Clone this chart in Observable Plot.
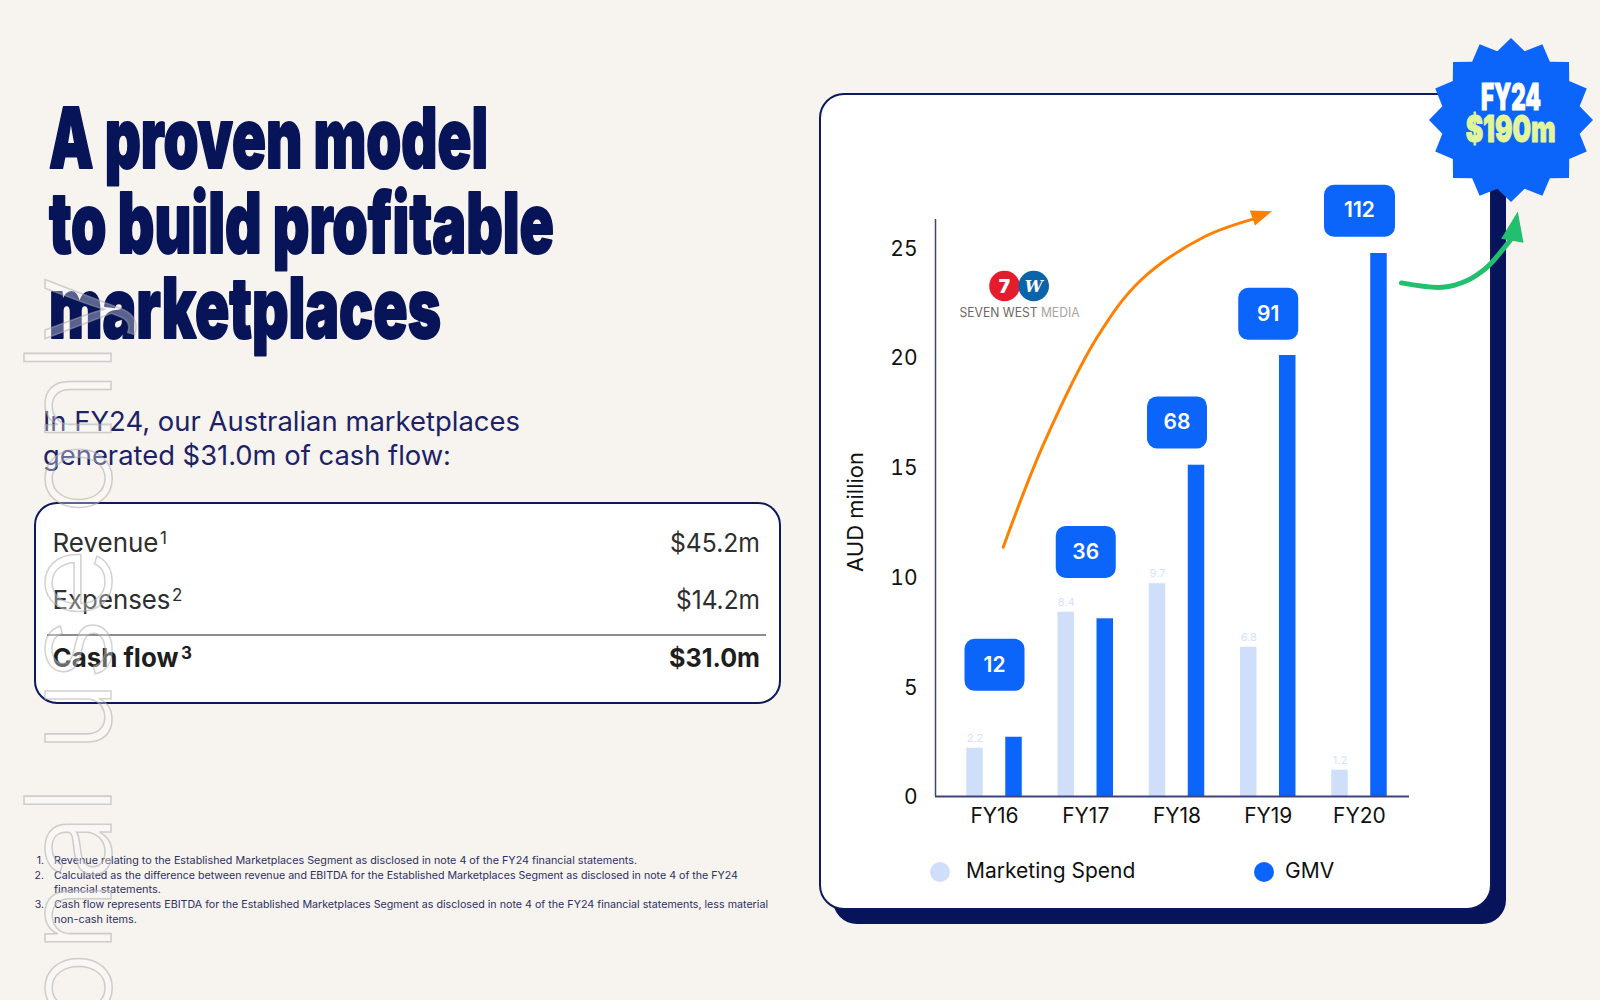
<!DOCTYPE html>
<html>
<head>
<meta charset="utf-8">
<script src="https://cdn.jsdelivr.net/npm/d3@7"></script>
<script src="https://cdn.jsdelivr.net/npm/@observablehq/plot@0.6"></script>
<style>
  html, body { margin: 0; padding: 0; background: #f7f3ef; }
  #page { position: relative; width: 1600px; height: 1000px; overflow: hidden; background: #f7f3ef; font-family: Inter, "Noto Sans", sans-serif; }
  .layer { position: absolute; left: 0; top: 0; }
  #chartWrap { position: absolute; left: 819px; top: 93px; width: 673px; }
  #legend { position: relative; height: 62px; font-family: Inter, sans-serif; font-size: 21px; color: #111; }
  #legend .sw { position: absolute; width: 20px; height: 20px; border-radius: 50%; top: 22px; }
  #legend .lb { position: absolute; top: 18px; line-height: 26px; }
</style>
</head>
<body>
<div id="page">
  <svg id="bg" class="layer" width="1600" height="1000"></svg>
  <div id="chartWrap"></div>
  <svg id="fg" class="layer" width="1600" height="1000" style="pointer-events:none"></svg>
</div>
<script>
// ---------------- data ----------------
const years = ["FY16", "FY17", "FY18", "FY19", "FY20"];
const seriesNames = ["Marketing Spend", "GMV"];
const seriesColors = ["#cfdffa", "#0c65fb"];
const marketingSpend = [2.2, 8.4, 9.7, 6.8, 1.2];
const gmvBarHeight = [2.7, 8.1, 15.1, 20.1, 24.75];   // drawn bar height on the AUD million axis
const gmvValue = [12, 36, 68, 91, 112];                // GMV shown in the callout boxes
const gmvLabelLevel = [6.0, 11.15, 17.05, 22.0, 26.7]; // where each callout box sits on the axis
const yTicks = [0, 5, 10, 15, 20, 25];
const yMax = 26.3;

// annotation arrows (x in year-index units, y in AUD million units)
const orangeArrowX = [0.095, 0.54, 1.125, 1.6, 2.29, 2.86];
const orangeArrowY = [11.36, 16.08, 20.93, 23.52, 25.49, 26.35];
const orangeTip = {x: 3.043, y: 26.68};
const greenArrowX = [4.46, 4.91, 5.181, 5.399, 5.563, 5.666];
const greenArrowY = [23.41, 23.21, 23.52, 24.13, 24.89, 25.43];
const greenTip = {x: 5.735, y: 26.67};

const titleLines = ["A proven model", "to build profitable", "marketplaces"];
const subtitleLines = ["In FY24, our Australian marketplaces", "generated $31.0m of cash flow:"];
const cashLabels = ["Revenue", "Expenses", "Cash flow"];
const cashNotes = ["1", "2", "3"];
const cashValues = ["$45.2m", "$14.2m", "$31.0m"];
const footnoteNums = ["1.", "2.", "", "3.", ""];
const footnoteLines = [
  "Revenue relating to the Established Marketplaces Segment as disclosed in note 4 of the FY24 financial statements.",
  "Calculated as the difference between revenue and EBITDA for the Established Marketplaces Segment as disclosed in note 4 of the FY24",
  "financial statements.",
  "Cash flow represents EBITDA for the Established Marketplaces Segment as disclosed in note 4 of the FY24 financial statements, less material",
  "non-cash items."
];
const badgeLines = ["FY24", "$190m"];
const watermark = "For personal use only";

// ---------------- helpers ----------------
const NAVY = "#081458";
function txt(svg, s, o) {
  const t = svg.append("text").attr("x", o.x).attr("y", o.y).text(s)
    .attr("font-family", o.font || "Inter, sans-serif")
    .attr("font-size", o.size).attr("font-weight", o.weight || 400)
    .attr("fill", o.fill || "#000");
  if (o.anchor) t.attr("text-anchor", o.anchor);
  if (o.len) t.attr("textLength", o.len).attr("lengthAdjust", "spacingAndGlyphs");
  if (o.stroke) t.attr("stroke", o.stroke).attr("stroke-width", o.sw || 1).attr("stroke-linejoin", "round");
  return t;
}

// ---------------- background layer ----------------
const bg = d3.select("#bg");
// chart card with offset shadow
bg.append("rect").attr("x", 833).attr("y", 107).attr("width", 673).attr("height", 817).attr("rx", 24).attr("fill", "#07135a");
bg.append("rect").attr("x", 820).attr("y", 94).attr("width", 671).attr("height", 815).attr("rx", 24)
  .attr("fill", "#fff").attr("stroke", "#0a1a5c").attr("stroke-width", 2);

// title
const titleBase = [168, 253, 338], titleLen = [439, 505, 392];
titleLines.forEach((s, i) => txt(bg, s, {x: 49, y: titleBase[i], size: 84, weight: 900, fill: NAVY, len: titleLen[i], stroke: NAVY, sw: 2}));

// subtitle
const subBase = [431, 465], subLen = [477, 408];
subtitleLines.forEach((s, i) => txt(bg, s, {x: 43, y: subBase[i], size: 27, weight: 400, fill: "#1b2266", len: subLen[i]}));

// cash-flow table
bg.append("rect").attr("x", 35).attr("y", 503).attr("width", 745).attr("height", 200).attr("rx", 22)
  .attr("fill", "#fff").attr("stroke", "#0a1a5c").attr("stroke-width", 2);
bg.append("line").attr("x1", 47).attr("x2", 766).attr("y1", 635).attr("y2", 635).attr("stroke", "#8d8d8d").attr("stroke-width", 2);
const rowBase = [552, 609, 667], labLen = [106, 118, 126], noteX = [160, 172, 181], valLen = [90, 84, 91];
cashLabels.forEach((s, i) => {
  const bold = i === 2;
  txt(bg, s, {x: 52.5, y: rowBase[i], size: 26, weight: bold ? 700 : 400, fill: bold ? "#1e1e1e" : "#2e2e2e", len: labLen[i]});
  txt(bg, cashNotes[i], {x: noteX[i], y: rowBase[i] - 8, size: 17, weight: bold ? 700 : 400, fill: bold ? "#1e1e1e" : "#2e2e2e"});
  txt(bg, cashValues[i], {x: 760, y: rowBase[i], size: 26, weight: bold ? 700 : 400, fill: bold ? "#1e1e1e" : "#2e2e2e", anchor: "end", len: valLen[i]});
});

// footnotes
const fnBase = [864, 878.7, 893.3, 908.3, 923.3], fnLen = [583, 684, 107, 714, 83];
footnoteLines.forEach((s, i) => {
  if (footnoteNums[i]) txt(bg, footnoteNums[i], {x: 44, y: fnBase[i], size: 10.5, fill: "#2c3062", anchor: "end"});
  txt(bg, s, {x: 54, y: fnBase[i], size: 10.5, fill: "#2c3062", len: fnLen[i]});
});

// Seven West Media logo
bg.append("circle").attr("cx", 1004.5).attr("cy", 286).attr("r", 15.3).attr("fill", "#e31d2b");
bg.append("circle").attr("cx", 1033.7).attr("cy", 286).attr("r", 15.3).attr("fill", "#0c64a8");
txt(bg, "7", {x: 1004.5, y: 292.5, size: 19, weight: 900, fill: "#fff", anchor: "middle"});
txt(bg, "W", {x: 1033.7, y: 292, size: 16, weight: 700, fill: "#fff", anchor: "middle", font: "DejaVu Serif, serif"}).attr("font-style", "italic");
const logoT = bg.append("text").attr("x", 959.5).attr("y", 316.5).attr("font-family", "Inter, sans-serif").attr("font-size", 13.5)
  .attr("textLength", 120).attr("lengthAdjust", "spacingAndGlyphs");
logoT.append("tspan").attr("fill", "#6f6762").text("SEVEN WEST ");
logoT.append("tspan").attr("fill", "#aaa39e").text("MEDIA");

// ---------------- chart ----------------
const W = 673, H = 747, mL = 116, mR = 83, mT = 126, mB = 44;
const fxPad = {paddingInner: 0.1, paddingOuter: 0.1475, align: 0.667};

const bars = years.flatMap((year, i) => [
  {year, series: seriesNames[0], value: marketingSpend[i]},
  {year, series: seriesNames[1], value: gmvBarHeight[i]}
]);
const spendRows = bars.filter(d => d.series === seriesNames[0]);
const gmvRows = years.map((year, i) => ({year, value: gmvValue[i], level: gmvLabelLevel[i]}));

// rounded callout box symbol (half-width from r, fixed height)
const roundedBox = {
  draw(ctx, size) {
    const w = Math.sqrt(size / Math.PI), h = 26, c = 10;
    ctx.moveTo(-w + c, -h);
    ctx.lineTo(w - c, -h); ctx.arcTo(w, -h, w, -h + c, c);
    ctx.lineTo(w, h - c); ctx.arcTo(w, h, w - c, h, c);
    ctx.lineTo(-w + c, h); ctx.arcTo(-w, h, -w, h - c, c);
    ctx.lineTo(-w, -h + c); ctx.arcTo(-w, -h, -w + c, -h, c);
    ctx.closePath();
  }
};
// filled arrow head, tip at the origin pointing up
const arrowHead = {
  draw(ctx, size) {
    const r = Math.sqrt(size / Math.PI), L = 2.3 * r, B = 1.75 * r;
    ctx.moveTo(0, 0); ctx.lineTo(B / 2, L); ctx.lineTo(-B / 2, L); ctx.closePath();
  }
};

const chart = Plot.plot({
  width: W, height: H, marginLeft: mL, marginRight: mR, marginTop: mT, marginBottom: mB,
  style: {background: "transparent", overflow: "visible", fontFamily: "Inter, sans-serif", color: "#111"},
  fx: {domain: years, ...fxPad, round: false, label: null},
  x: {domain: seriesNames, paddingInner: 0.577, paddingOuter: 0.341, round: false, axis: null},
  y: {domain: [0, yMax], axis: null},
  r: {type: "identity"},
  color: {domain: seriesNames, range: seriesColors},
  marks: [
    Plot.axisFx({anchor: "bottom", tickSize: 0, tickPadding: 12, fontSize: 21, label: null}),
    Plot.barY(bars, {fx: "year", x: "series", y: "value", fill: "series"}),
    Plot.text(spendRows, {fx: "year", x: "series", y: "value", text: d => d.value.toFixed(1), dy: -10, fill: "#d3e2fb", fontSize: 11}),
    Plot.dot(gmvRows, {fx: "year", y: "level", r: d => 19 + 5.5 * String(d.value).length, symbol: roundedBox, fill: seriesColors[1]}),
    Plot.text(gmvRows, {fx: "year", y: "level", text: d => String(d.value), fill: "#fff", fontSize: 21, fontWeight: 600})
  ]
});

// overlay with a continuous x (year index) for axes lines and annotation arrows
const nY = years.length, frameW = W - mL - mR;
const step = frameW / (nY - fxPad.paddingInner + 2 * fxPad.paddingOuter);
const firstCenter = (frameW - step * (nY - fxPad.paddingInner)) * fxPad.align + step * (1 - fxPad.paddingInner) / 2;
const xDom = [-firstCenter / step, (frameW - firstCenter) / step];
const orangePts = orangeArrowX.map((x, i) => ({x, y: orangeArrowY[i]}));
const greenPts = greenArrowX.map((x, i) => ({x, y: greenArrowY[i]}));
const AXIS = "#3f4579";

const overlay = Plot.plot({
  width: W, height: H, marginLeft: mL, marginRight: mR, marginTop: mT, marginBottom: mB,
  style: {background: "transparent", overflow: "visible", fontFamily: "Inter, sans-serif", color: "#111", position: "absolute", left: "0px", top: "0px"},
  x: {domain: xDom, axis: null},
  y: {domain: [0, yMax]},
  marks: [
    Plot.axisY({ticks: yTicks, tickSize: 0, tickPadding: 18, fontSize: 21, label: null, dy: 1}),
    Plot.ruleX([xDom[0]], {stroke: AXIS, strokeWidth: 1.5}),
    Plot.ruleY([0], {stroke: AXIS, strokeWidth: 2}),
    Plot.text(["AUD million"], {frameAnchor: "left", textAnchor: "middle", rotate: -90, dx: -80, dy: 4, fontSize: 22}),
    Plot.line(orangePts, {x: "x", y: "y", curve: "catmull-rom", stroke: "#ff8000", strokeWidth: 3}),
    Plot.dot([orangeTip], {x: "x", y: "y", symbol: arrowHead, r: 9.1, rotate: 71, fill: "#ff8000"}),
    Plot.line(greenPts, {x: "x", y: "y", curve: "catmull-rom", stroke: "#22bf6e", strokeWidth: 5}),
    Plot.dot([greenTip], {x: "x", y: "y", symbol: arrowHead, r: 13, rotate: 10.5, fill: "#22bf6e"})
  ]
});

const wrap = document.getElementById("chartWrap");
wrap.style.position = "absolute";
wrap.appendChild(chart);
wrap.appendChild(overlay);

// legend below the plot
const legend = document.createElement("div");
legend.id = "legend";
const swX = [111, 435], lbX = [147, 466];
seriesNames.forEach((s, i) => {
  const sw = document.createElement("div");
  sw.className = "sw"; sw.style.left = swX[i] + "px"; sw.style.background = seriesColors[i];
  const lb = document.createElement("div");
  lb.className = "lb"; lb.style.left = lbX[i] + "px"; lb.textContent = s;
  legend.appendChild(sw); legend.appendChild(lb);
});
wrap.appendChild(legend);

// ---------------- foreground: badge + watermark ----------------
const fg = d3.select("#fg");
const nPts = 16, cx = 1511, cy = 120, rOut = 82, rIn = 70;
const starPts = d3.range(nPts * 2).map(k => {
  const a = -Math.PI / 2 + k * Math.PI / nPts, r = k % 2 ? rIn : rOut;
  return [cx + r * Math.cos(a), cy + r * Math.sin(a)];
});
fg.append("path").attr("d", "M" + starPts.join("L") + "Z").attr("fill", seriesColors[1]);
txt(fg, badgeLines[0], {x: 1511, y: 110, size: 37, weight: 900, fill: "#fff", anchor: "middle", len: 60, stroke: "#fff", sw: 1});
txt(fg, badgeLines[1], {x: 1510.7, y: 141.7, size: 37, weight: 900, fill: "#e2f59a", anchor: "middle", len: 90, stroke: "#e2f59a", sw: 1});

// vertical outlined watermark
const wm = fg.append("text").text(watermark)
  .attr("font-family", "Inter, sans-serif").attr("font-size", 120).attr("font-weight", 300)
  .attr("fill", "rgba(255,255,255,0.33)").attr("stroke", "rgba(165,165,165,0.5)")
  .attr("stroke-width", 1.5).attr("vector-effect", "non-scaling-stroke");
const node = wm.node();
const e11 = node.getExtentOfChar(11), e19 = node.getExtentOfChar(19);
const c11 = e11.x + e11.width / 2, c19 = e19.x + e19.width / 2;
const k = 443 / (c19 - c11);
wm.attr("transform", `translate(111,${357 + k * c19}) rotate(-90) scale(${k},1)`);
</script>
</body>
</html>
